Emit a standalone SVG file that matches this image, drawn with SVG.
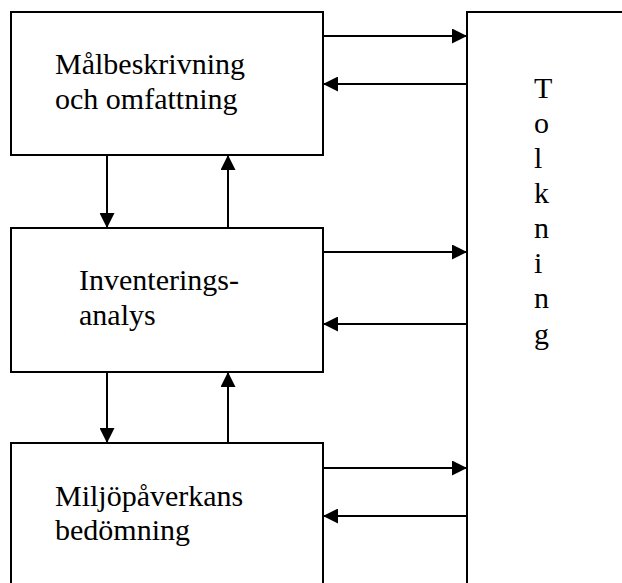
<svg xmlns="http://www.w3.org/2000/svg" width="622" height="583" viewBox="0 0 622 583">
  <style>
    .box { fill: #ffffff; stroke: #000000; stroke-width: 2; }
    .lbl { font-family: "Liberation Serif", "Times New Roman", serif; font-size: 30px; fill: #000000; }
    .conn line { stroke: #000000; stroke-width: 2; marker-end: url(#arrow); }
  </style>
  <defs>
    <marker id="arrow" markerUnits="userSpaceOnUse" markerWidth="15" markerHeight="15" refX="15" refY="7.5" orient="auto">
      <path d="M0,0 L15,7.5 L0,15 z" fill="#000000"/>
    </marker>
  </defs>
  <rect width="622" height="583" fill="#ffffff"/>

  <!-- Goal and scope -->
  <g id="malbeskrivning">
    <rect class="box" x="11" y="12" width="312" height="143"/>
    <text class="lbl" x="55" y="74">Målbeskrivning</text>
    <text class="lbl" x="55" y="109">och omfattning</text>
  </g>

  <!-- Inventory analysis -->
  <g id="inventeringsanalys">
    <rect class="box" x="11" y="228" width="312" height="144"/>
    <text class="lbl" x="79" y="290">Inventerings-</text>
    <text class="lbl" x="79" y="325">analys</text>
  </g>

  <!-- Impact assessment (runs off the bottom edge) -->
  <g id="miljopaverkan">
    <rect class="box" x="11" y="443" width="312" height="160"/>
    <text class="lbl" x="55" y="506">Miljöpåverkans</text>
    <text class="lbl" x="55" y="540">bedömning</text>
  </g>

  <!-- Interpretation column (runs off the right and bottom edges) -->
  <g id="tolkning">
    <rect class="box" x="467" y="12" width="170" height="590"/>
    <text class="lbl" x="534" y="98">T</text>
    <text class="lbl" x="534" y="133">o</text>
    <text class="lbl" x="534" y="168">l</text>
    <text class="lbl" x="534" y="203">k</text>
    <text class="lbl" x="534" y="238">n</text>
    <text class="lbl" x="534" y="273">i</text>
    <text class="lbl" x="534" y="308">n</text>
    <text class="lbl" x="534" y="344">g</text>
  </g>

  <g id="connectors" class="conn">
    <!-- phase to phase -->
    <line x1="107" y1="155" x2="107" y2="228"/>
    <line x1="228" y1="228" x2="228" y2="155"/>
    <line x1="107" y1="372" x2="107" y2="443"/>
    <line x1="228" y1="443" x2="228" y2="372"/>
    <!-- phases to interpretation and back -->
    <line x1="323" y1="36" x2="467" y2="36"/>
    <line x1="467" y1="84" x2="323" y2="84"/>
    <line x1="323" y1="252" x2="467" y2="252"/>
    <line x1="467" y1="324" x2="323" y2="324"/>
    <line x1="323" y1="468" x2="467" y2="468"/>
    <line x1="467" y1="516" x2="323" y2="516"/>
  </g>
</svg>
